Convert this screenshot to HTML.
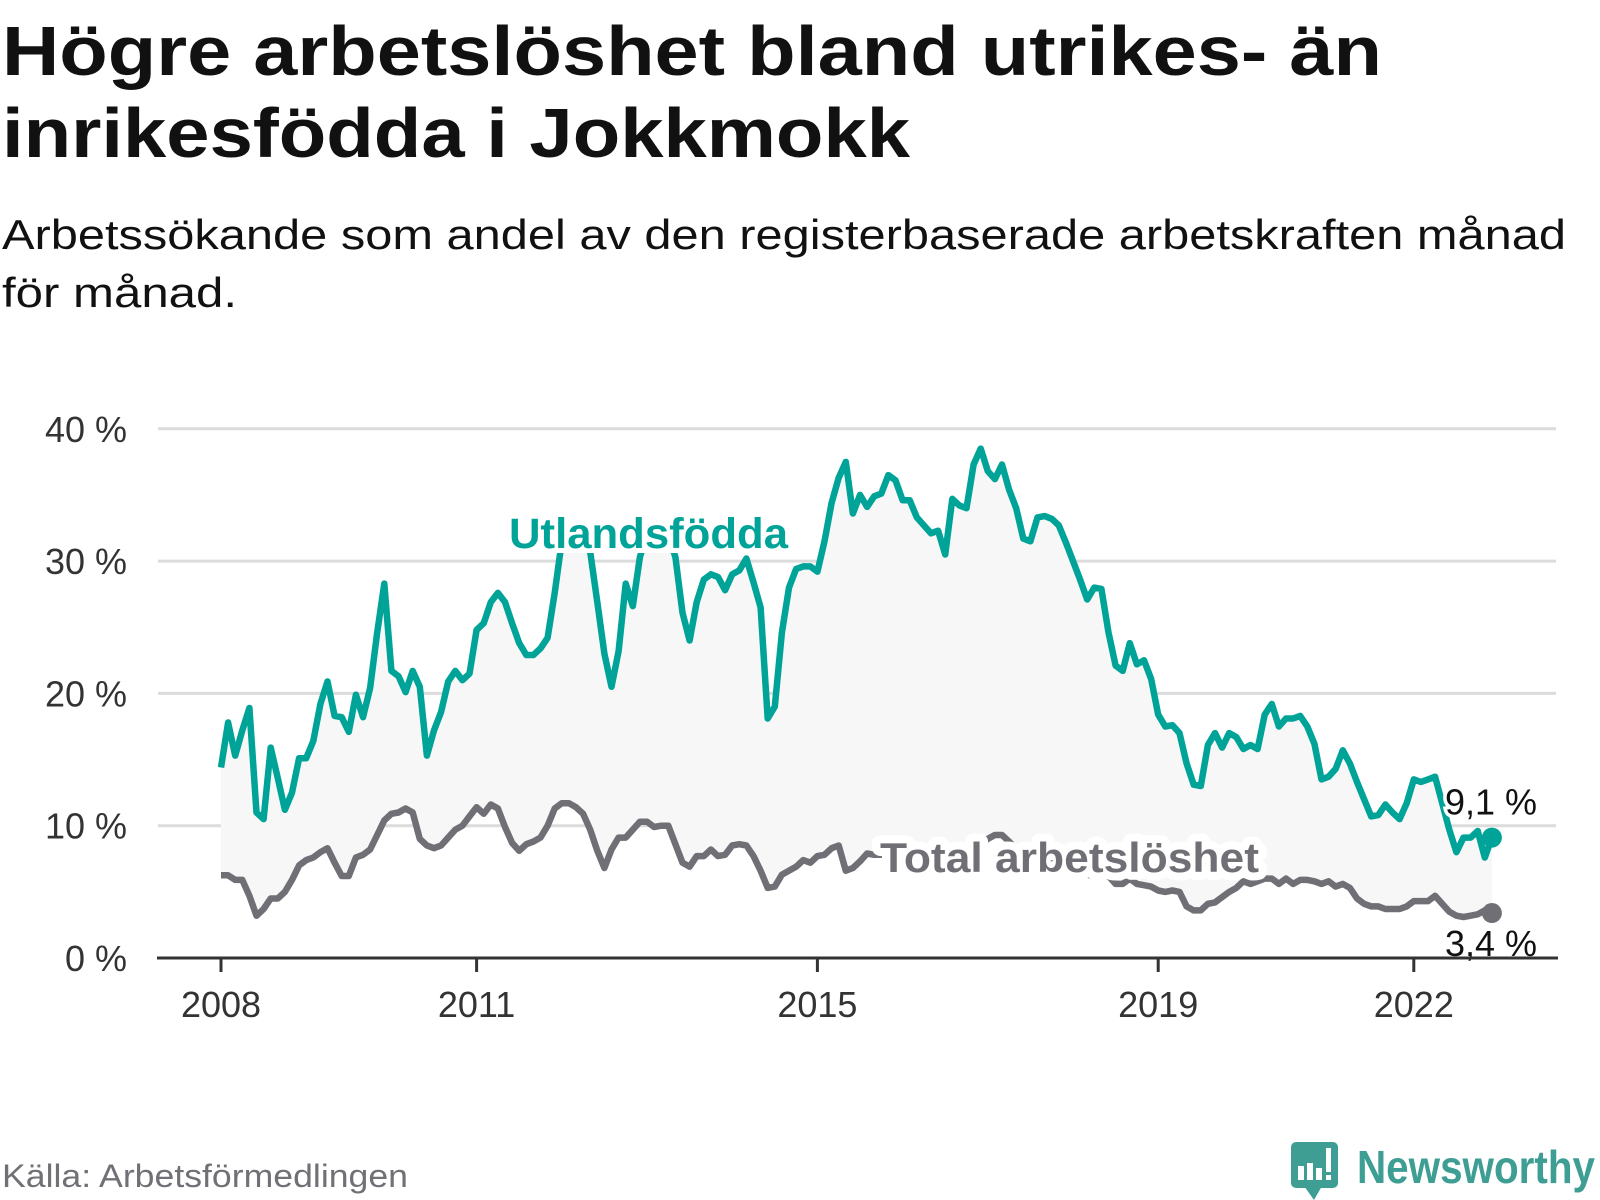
<!DOCTYPE html>
<html><head><meta charset="utf-8"><style>
html,body{margin:0;padding:0;background:#fff;}
svg{display:block;font-family:"Liberation Sans",sans-serif;}
</style></head><body>
<svg id="chart" width="1600" height="1200" viewBox="0 0 1600 1200" xmlns="http://www.w3.org/2000/svg">
<text x="2" y="75" font-size="70" font-weight="bold" fill="#111" textLength="1380" lengthAdjust="spacingAndGlyphs">Högre arbetslöshet bland utrikes- än</text>
<text x="2" y="157" font-size="70" font-weight="bold" fill="#111" textLength="908" lengthAdjust="spacingAndGlyphs">inrikesfödda i Jokkmokk</text>
<text x="2" y="249" font-size="42" fill="#111" textLength="1564" lengthAdjust="spacingAndGlyphs">Arbetssökande som andel av den registerbaserade arbetskraften månad</text>
<text x="2" y="307" font-size="42" fill="#111" textLength="235" lengthAdjust="spacingAndGlyphs">för månad.</text>
<g id="grid"></g>
<g id="plot"></g>
<g id="axes"></g>
<text x="2" y="1187" font-size="32" fill="#707076" textLength="406" lengthAdjust="spacingAndGlyphs">Källa: Arbetsförmedlingen</text>
<g>
  <rect x="1291" y="1142" width="47" height="46" rx="5" fill="#3e9e94"/>
  <path d="M1304 1186 L1314 1200 L1322 1186 Z" fill="#3e9e94"/>
  <rect x="1298" y="1166" width="6" height="14" fill="#fff"/>
  <rect x="1307" y="1163" width="6" height="17" fill="#fff"/>
  <rect x="1316" y="1168" width="6" height="12" fill="#fff"/>
  <rect x="1326" y="1148" width="5" height="24" fill="#fff"/>
  <rect x="1326" y="1175" width="5" height="5" fill="#fff"/>
  <text x="1357" y="1183" font-size="46" font-weight="bold" fill="#3e9e94" textLength="238" lengthAdjust="spacingAndGlyphs">Newsworthy</text>
</g>
</svg>
<script>
const utrikes = [14.4,17.8,15.3,17.2,18.9,11.0,10.5,15.9,13.6,11.2,12.5,15.1,15.1,16.4,19.2,20.9,18.3,18.2,17.1,19.9,18.2,20.4,24.6,28.3,21.7,21.3,20.1,21.7,20.5,15.3,17.2,18.6,20.9,21.7,21.0,21.5,24.8,25.3,26.9,27.6,26.9,25.3,23.8,22.9,22.9,23.4,24.2,27.6,
31.5,34,35,33,
30.7,26.9,23.0,20.5,23.2,28.3,26.6,30.3,
32,34.5,34,32,
30.3,26.1,24.0,26.9,28.6,29.0,28.8,27.8,29.0,29.3,30.2,28.4,26.5,18.1,19.0,24.6,28.0,29.4,29.6,29.6,29.2,31.5,34.4,36.3,37.5,33.6,35.0,34.1,34.9,35.1,36.5,36.1,34.6,34.6,33.3,32.7,32.1,32.3,30.5,34.7,34.2,34.0,37.3,38.5,36.8,36.2,37.3,35.4,34.0,31.7,31.5,33.3,33.4,33.2,32.7,31.4,30.0,28.6,27.1,28.0,27.9,24.6,22.1,21.7,23.8,22.2,22.5,21.1,18.4,17.5,17.6,17.0,14.7,13.1,13.0,16.1,17.0,15.9,17.0,16.7,15.8,16.1,15.8,18.4,19.2,17.5,18.1,18.1,18.3,17.5,16.2,13.5,13.7,14.3,15.7,14.7,13.3,12.0,10.7,10.8,11.6,11.0,10.5,11.7,13.5,13.3,13.5,13.7,11.7,9.7,8.0,9.1,9.1,9.6,7.6,9.1];
const total = [6.25,6.25,5.9,5.9,4.7,3.2,3.7,4.5,4.5,5.0,5.9,7.0,7.4,7.6,8.0,8.3,7.2,6.2,6.2,7.6,7.8,8.2,9.3,10.4,10.9,11.0,11.3,11.0,9.0,8.5,8.3,8.5,9.1,9.7,10.0,10.7,11.4,10.9,11.6,11.3,9.9,8.7,8.1,8.6,8.8,9.1,10.0,11.3,11.7,11.7,11.4,10.9,9.7,8.1,6.8,8.2,9.1,9.1,9.7,10.3,10.3,9.9,10.0,10.0,8.6,7.2,6.9,7.7,7.7,8.2,7.7,7.8,8.5,8.6,8.5,7.7,6.6,5.3,5.4,6.3,6.6,6.9,7.4,7.2,7.7,7.8,8.3,8.5,6.6,6.8,7.3,7.9,
7.8,7.8,7.9,8.0,8.0,8.1,8.0,7.9,8.0,8.1,8.2,8.1,8.0,8.1,8.3,8.6,9.0,9.3,9.3,8.8,8.2,8.0,7.8,7.6,7.4,7.2,7.0,6.8,6.6,6.5,6.3,6.2,6.2,
6.2,5.6,5.6,6.0,5.6,5.5,5.4,5.1,5.0,5.1,5.0,3.9,3.6,3.6,4.1,4.2,4.6,5.0,5.3,5.8,5.6,5.8,6.0,6.0,5.6,6.0,5.6,5.9,5.9,5.8,5.6,5.8,5.4,5.6,5.3,4.5,4.1,3.9,3.9,3.7,3.7,3.7,3.9,4.3,4.3,4.3,4.7,4.1,3.5,3.2,3.1,3.2,3.3,3.6,3.4];
const startYear = 2008;
const yTicks = [0,10,20,30,40];
const yTickLabels = ["0 %","10 %","20 %","30 %","40 %"];
const xTickYears = [2008,2011,2015,2019,2022];
const endLabels = ["9,1 %","3,4 %"];

const NS="http://www.w3.org/2000/svg";
const X0=221, PER_YEAR=85.2, Y0=958, PER_PCT=13.23;
function xScale(t){return X0+(t-startYear)*PER_YEAR;}
function xIdx(i){return xScale(startYear+i/12);}
function yScale(v){return Y0-v*PER_PCT;}
function mk(tag,attrs,parent){const e=document.createElementNS(NS,tag);for(const k in attrs)e.setAttribute(k,attrs[k]);parent.appendChild(e);return e;}

const grid=document.getElementById('grid');
const axes=document.getElementById('axes');
const plot=document.getElementById('plot');

yTicks.forEach((v,i)=>{
  if(v>0){
    const l=mk('line',{x1:158,x2:1556,y1:yScale(v),y2:yScale(v),stroke:'#dcdcdc','stroke-width':3},grid);
    
    
  }
  const t=mk('text',{x:127,y:yScale(v)+13,'font-size':36,fill:'#333','text-anchor':'end'},axes);
  t.textContent=yTickLabels[i];
  
  
});
const ax=mk('line',{x1:157,x2:1558,y1:Y0,y2:Y0,stroke:'#333','stroke-width':3},axes);


xTickYears.forEach(yr=>{
  const x=xScale(yr);
  const tk=mk('line',{x1:x,x2:x,y1:Y0,y2:Y0+14,stroke:'#333','stroke-width':3},axes);
  
  
  const t=mk('text',{x:x,y:1017,'font-size':36,fill:'#333','text-anchor':'middle'},axes);
  t.textContent=String(yr);
  
  
});

const ptsU=utrikes.map((v,i)=>[xIdx(i),yScale(v)]);
const ptsT=total.map((v,i)=>[xIdx(i),yScale(v)]);
const area=mk('polygon',{points:ptsU.concat(ptsT.slice().reverse()).map(p=>p[0].toFixed(1)+','+p[1].toFixed(1)).join(' '),fill:'#f7f7f7'},plot);



const lt=mk('polyline',{points:ptsT.map(p=>p[0].toFixed(1)+','+p[1].toFixed(1)).join(' '),fill:'none',stroke:'#706f75','stroke-width':6.5,'stroke-linejoin':'round'},plot);


const lu=mk('polyline',{points:ptsU.map(p=>p[0].toFixed(1)+','+p[1].toFixed(1)).join(' '),fill:'none',stroke:'#00a397','stroke-width':6.5,'stroke-linejoin':'round'},plot);



const cover=mk('rect',{x:503,y:470,width:292,height:83,fill:'#fff'},plot);


const lab1=mk('text',{x:509,y:548,'font-size':43,'font-weight':'bold',fill:'#00a397',textLength:279,lengthAdjust:'spacingAndGlyphs'},plot);
lab1.textContent='Utlandsfödda';


const lab2=mk('text',{x:880,y:872,'font-size':42,'font-weight':'bold',fill:'#706f75',stroke:'#fff','stroke-width':16,'paint-order':'stroke','stroke-linejoin':'round',textLength:379,lengthAdjust:'spacingAndGlyphs'},plot);
lab2.textContent='Total arbetslöshet';



const lastU=ptsU[ptsU.length-1], lastT=ptsT[ptsT.length-1];
const d1=mk('circle',{cx:lastU[0],cy:lastU[1],r:10,fill:'#00a397'},plot);


const d2=mk('circle',{cx:lastT[0],cy:lastT[1],r:10,fill:'#706f75'},plot);


const e1=mk('text',{x:1445,y:lastU[1]-23,'font-size':36,fill:'#111',stroke:'#fff','stroke-width':7,'paint-order':'stroke'},plot);
e1.textContent=endLabels[0];


const e2=mk('text',{x:1445,y:lastT[1]+43,'font-size':36,fill:'#111',stroke:'#fff','stroke-width':7,'paint-order':'stroke'},plot);
e2.textContent=endLabels[1];


</script>
</body></html>
